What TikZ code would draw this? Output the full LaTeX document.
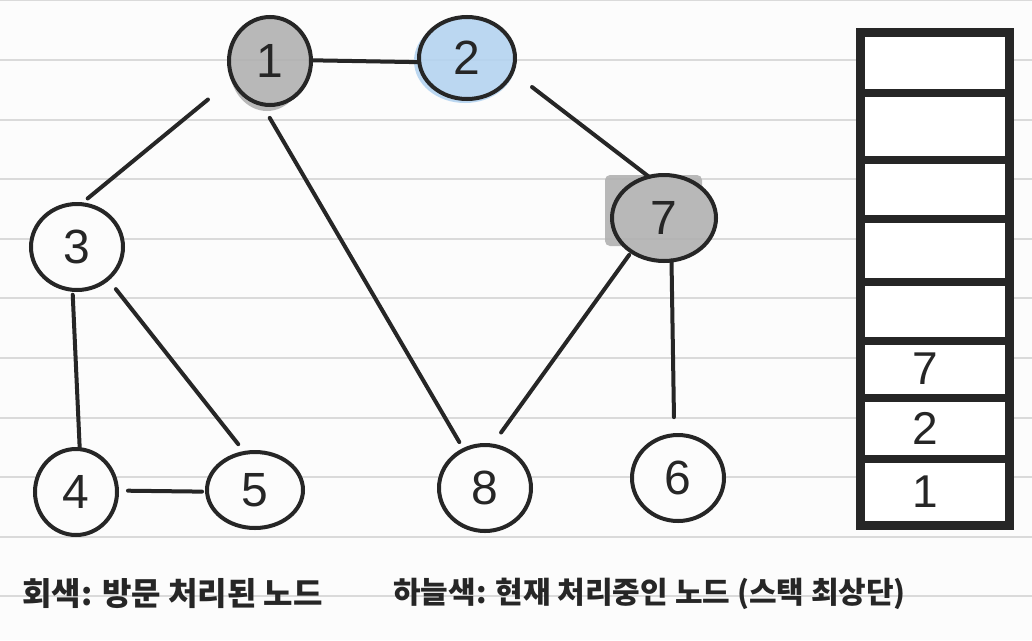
\documentclass[tikz,border=0pt]{standalone}
\usepackage{fontspec}
\setmainfont{Liberation Sans}
\newfontfamily\kr{Noto Sans CJK KR}
\usetikzlibrary{shapes.geometric,backgrounds}
\definecolor{bg}{HTML}{FCFCFC}
\definecolor{rulec}{HTML}{DADADA}
\definecolor{ink}{HTML}{262626}
\definecolor{visitedc}{HTML}{AFAFAF}
\definecolor{currentc}{HTML}{B3D3F0}
\begin{document}
\begin{tikzpicture}[x=1pt,y=-1pt,
  gnode/.style={ellipse, draw=ink, line width=4pt, inner sep=0pt, outer sep=0pt,
    font=\fontsize{48}{48}\selectfont, text=ink},
  wnode/.style={gnode, fill=bg},
  edge/.style={draw=ink, line width=4pt, line cap=round},
  rulel/.style={draw=rulec, line width=2pt},
  stackline/.style={draw=ink, line width=8pt},
  cell/.style={font=\fontsize{46}{46}\selectfont, text=ink, inner sep=0pt},
  legend/.style={font=\kr\bfseries, text=ink, anchor=west, inner sep=0pt}]
\useasboundingbox (0,0) rectangle (1032,640);

% nodes
\node[gnode, minimum width=82pt, minimum height=88pt] (n1) at (270,61) {1};
\node[gnode, minimum width=96pt, minimum height=82pt] (n2) at (467,58) {2};
\node[wnode, minimum width=92pt, minimum height=86pt] (n3) at (77,247) {3};
\node[wnode, minimum width=82pt, minimum height=86pt] (n4) at (76,492) {4};
\node[wnode, minimum width=96pt, minimum height=76pt] (n5) at (255,490) {5};
\node[wnode, minimum width=92pt, minimum height=86pt] (n6) at (678,478) {6};
\node[gnode, minimum width=104pt, minimum height=86pt] (n7) at (664,218) {7};
\node[wnode, minimum width=92pt, minimum height=86pt] (n8) at (485,488) {8};

\begin{pgfonlayer}{background}
  \fill[bg] (0,0) rectangle (1032,640);
  \foreach \k in {0,...,10} {
    \draw[rulel] (0,{0.4+59.6*\k}) -- (1032,{0.4+59.6*\k});
  }
  \begin{scope}[transparency group, opacity=0.88]
    \fill[visitedc] (n1.center) ellipse [x radius=42, y radius=45];
    \fill[visitedc] ([shift={(-3,4)}]n1.center) ellipse [x radius=38, y radius=46];
    \fill[currentc] (n2.center) ellipse [x radius=49, y radius=42];
    \fill[currentc] ([shift={(-2,3)}]n2.center) ellipse [x radius=51, y radius=42];
    \fill[visitedc] (n7.center) ellipse [x radius=53, y radius=44];
    \fill[visitedc, rounded corners=5pt] ([shift={(-59,-43)}]n7.center) rectangle ([shift={(38,28)}]n7.center);
  \end{scope}
\end{pgfonlayer}

% edges
\draw[edge] (n1.1) -- (n2.185);
\draw[edge, shorten <=32pt, shorten >=9pt] (n1.206) -- (n3.85);
\draw[edge, shorten <=16pt, shorten >=9pt] (n1.259) -- (n8.119);
\draw[edge, shorten <=25pt] (n2.343) -- (n7.110);
\draw[edge, shorten <=5pt, shorten >=2pt] (n3.264) -- (n4.85);
\draw[edge, shorten <=13pt, shorten >=11pt] (n3.314) -- (n5.105);
\draw[edge, shorten <=11pt, shorten >=5pt] (n4.2) -- (n5.182);
\draw[edge, shorten <=4pt, shorten >=16pt] (n7.226) -- (n8.81);
\draw[edge, shorten >=18pt] (n7.280) -- (n6.95);

% stack
\draw[draw=ink, fill=white, line width=9pt] (860.5,32.5) rectangle (1009.5,525.5);
\foreach \yy in {93,160,219,282,341,398,459} {
  \draw[stackline] (861,\yy) -- (1009,\yy);
}
\node[cell] (s7) at (925,369) {7};
\node[cell] (s2) at (925,428) {2};
\node[cell] (s1) at (925,492) {1};

% legend
\node[legend, font=\kr\bfseries\fontsize{32}{32}\selectfont] (lg1) at (22,594) {회색: 방문 처리된 노드};
\node[legend, font=\kr\bfseries\fontsize{30}{30}\selectfont] (lg2) at (393,594) {하늘색: 현재 처리중인 노드 (스택 최상단)};
\end{tikzpicture}
\end{document}
